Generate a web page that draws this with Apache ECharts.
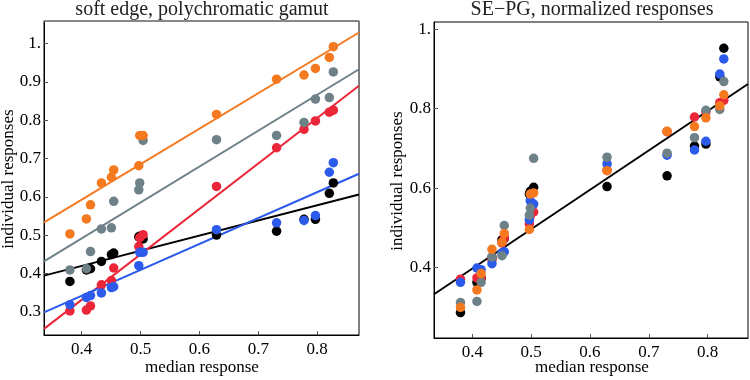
<!DOCTYPE html>
<html>
<head>
<meta charset="utf-8">
<script src="https://cdn.jsdelivr.net/npm/echarts@6/dist/echarts.min.js"></script>
<style>
html,body{margin:0;padding:0;background:#fff;}
#c{width:750px;height:380px;}
</style>
</head>
<body>
<div id="c"></div>
<script>
// ---- data ----
const medianX = [0.380, 0.408, 0.415, 0.4335, 0.4505, 0.4544, 0.497, 0.4986, 0.5043, 0.629, 0.731, 0.7776, 0.797, 0.8206, 0.8274];

const leftOrange = [0.503, 0.542, 0.579, 0.636, 0.651, 0.670, 0.681, 0.760, 0.760, 0.815, 0.907, 0.918, 0.935, 0.964, 0.992];
const leftGray   = [0.409, 0.412, 0.457, 0.516, 0.519, 0.588, 0.618, 0.636, 0.747, 0.749, 0.760, 0.794, 0.855, 0.859, 0.926];
const leftRed    = [0.302, 0.304, 0.315, 0.370, 0.381, 0.414, 0.470, 0.493, 0.501, 0.627, 0.728, 0.776, 0.798, 0.821, 0.826];
const leftBlue   = [0.318, 0.337, 0.342, 0.349, 0.363, 0.365, 0.420, 0.455, 0.455, 0.514, 0.532, 0.538, 0.551, 0.664, 0.689];
const leftBlack  = [0.379, 0.409, 0.412, 0.431, 0.449, 0.453, 0.495, 0.497, 0.490, 0.500, 0.510, 0.541, 0.541, 0.609, 0.636];

const normOrange = [0.300, 0.344, 0.385, 0.446, 0.464, 0.486, 0.496, 0.585, 0.588, 0.644, 0.743, 0.755, 0.777, 0.807, 0.835];
const normGray   = [0.312, 0.315, 0.363, 0.427, 0.430, 0.506, 0.532, 0.550, 0.675, 0.678, 0.688, 0.727, 0.796, 0.798, 0.868];
const normRed    = [0.371, 0.374, 0.372, 0.420, 0.462, 0.475, 0.510, 0.530, 0.540, 0.645, 0.742, 0.779, 0.792, 0.815, 0.821];
const normBlue   = [0.363, 0.399, 0.395, 0.410, 0.437, 0.440, 0.520, 0.568, 0.560, 0.661, 0.683, 0.696, 0.718, 0.887, 0.925];
const normBlack  = [0.287, 0.363, 0.374, 0.425, 0.470, 0.473, 0.585, 0.592, 0.602, 0.604, 0.631, 0.706, 0.711, 0.880, 0.952];

// fitted lines (values at the frame edges)
const fitX      = [0.336, 0.871];
const fitOrange = [0.533, 1.029];
const fitGray   = [0.431, 0.933];
const fitRed    = [0.255, 0.890];
const fitBlue   = [0.298, 0.660];
const fitBlack  = [0.394, 0.606];
const normFitX  = [0.335, 0.8685];
const normFitY  = [0.333, 0.862];

const titles = ['soft edge, polychromatic gamut', 'SE\u2212PG, normalized responses'];
const xName = 'median response';
const yName = 'individual responses';

// ---- styles ----
const C = {orange:'#F5791F', gray:'#6F8188', red:'#EC2639', blue:'#2C5AEB', black:'#000000'};
const FONT = '"Liberation Serif", "DejaVu Serif", serif';

function pts(ys){ return medianX.map((x,i)=>[x, ys[i]]); }
function seg(xs, ys){ return xs.map((x,i)=>[x, ys[i]]); }

function lineSeries(data, color, gi){
  return {type:'line', xAxisIndex:gi, yAxisIndex:gi, data:data, symbol:'none', silent:true,
    lineStyle:{color:color, width:2}, z:2, clip:true};
}
function dotSeries(data, color, gi){
  return {type:'scatter', xAxisIndex:gi, yAxisIndex:gi, data:data, symbol:'circle', symbolSize:9.5,
    itemStyle:{color:color, opacity:1}, z:3, silent:true};
}
function fmt(v){ return Math.abs(v-1)<1e-6 ? '1.' : (Math.round(v*10)/10).toFixed(1); }

function xAx(gi, min, max){
  return {type:'value', gridIndex:gi, min:min, max:max, splitNumber:5,
    axisLine:{show:true, lineStyle:{color:'#000', width:1}},
    axisTick:{show:true, inside:true, length:4, lineStyle:{color:'#555'}},
    axisLabel:{show:true, margin:6, fontFamily:FONT, fontSize:17, color:'#000', formatter:fmt, showMinLabel:false, showMaxLabel:false},
    splitLine:{show:false}};
}
function yAx(gi, min, max, split){
  return {type:'value', gridIndex:gi, min:min, max:max, splitNumber:split,
    axisLine:{show:true, lineStyle:{color:'#000', width:1}},
    axisTick:{show:true, inside:true, length:4, lineStyle:{color:'#555'}},
    axisLabel:{show:true, margin:3, fontFamily:FONT, fontSize:17, color:'#000', formatter:fmt, showMinLabel:false, showMaxLabel:false},
    splitLine:{show:false}};
}

const topFrame = {type:'value', gridIndex:0, position:'top', min:0, max:1,
  axisLine:{show:true, lineStyle:{color:'#8a8a8a', width:1.5}},
  axisTick:{show:false}, axisLabel:{show:false}, splitLine:{show:false}};

const chart = echarts.init(document.getElementById('c'), null, {renderer:'canvas'});
chart.setOption({
  animation:false,
  backgroundColor:'#fff',
  grid:[
    {left:44, top:21, width:315, height:314, show:true, borderColor:'#000', borderWidth:1, backgroundColor:'transparent'},
    {left:434, top:22, width:314, height:316, show:true, borderColor:'#000', borderWidth:1, backgroundColor:'transparent'}
  ],
  xAxis:[xAx(0, 0.336, 0.871), xAx(1, 0.335, 0.8685), topFrame],
  yAxis:[yAx(0, 0.239, 1.059, 8), yAx(1, 0.223, 1.018, 4)],
  series:[
    lineSeries(seg(fitX, fitBlack), C.black, 0),
    lineSeries(seg(fitX, fitRed), C.red, 0),
    lineSeries(seg(fitX, fitBlue), C.blue, 0),
    lineSeries(seg(fitX, fitGray), C.gray, 0),
    lineSeries(seg(fitX, fitOrange), C.orange, 0),
    dotSeries(pts(leftBlack), C.black, 0),
    dotSeries(pts(leftRed), C.red, 0),
    dotSeries(pts(leftBlue), C.blue, 0),
    dotSeries(pts(leftGray), C.gray, 0),
    dotSeries(pts(leftOrange), C.orange, 0),
    lineSeries(seg(normFitX, normFitY), C.black, 1),
    dotSeries(pts(normBlack), C.black, 1),
    dotSeries(pts(normRed), C.red, 1),
    dotSeries(pts(normBlue), C.blue, 1),
    dotSeries(pts(normGray), C.gray, 1),
    dotSeries(pts(normOrange), C.orange, 1)
  ],
  graphic:[
    {type:'text', x:202, y:10, style:{text:titles[0], font:'20px '+FONT, fill:'#222', align:'center', verticalAlign:'middle'}},
    {type:'text', x:592, y:10, style:{text:titles[1], font:'20px '+FONT, fill:'#222', align:'center', verticalAlign:'middle'}},
    {type:'text', x:202, y:368, style:{text:xName, font:'17px '+FONT, fill:'#000', align:'center', verticalAlign:'middle'}},
    {type:'text', x:592, y:368, style:{text:xName, font:'17px '+FONT, fill:'#000', align:'center', verticalAlign:'middle'}},
    {type:'text', x:9, y:179, rotation:Math.PI/2, style:{text:yName, font:'17px '+FONT, fill:'#000', align:'center', verticalAlign:'middle'}},
    {type:'text', x:398, y:181, rotation:Math.PI/2, style:{text:yName, font:'17px '+FONT, fill:'#000', align:'center', verticalAlign:'middle'}}
  ]
});
</script>
</body>
</html>
